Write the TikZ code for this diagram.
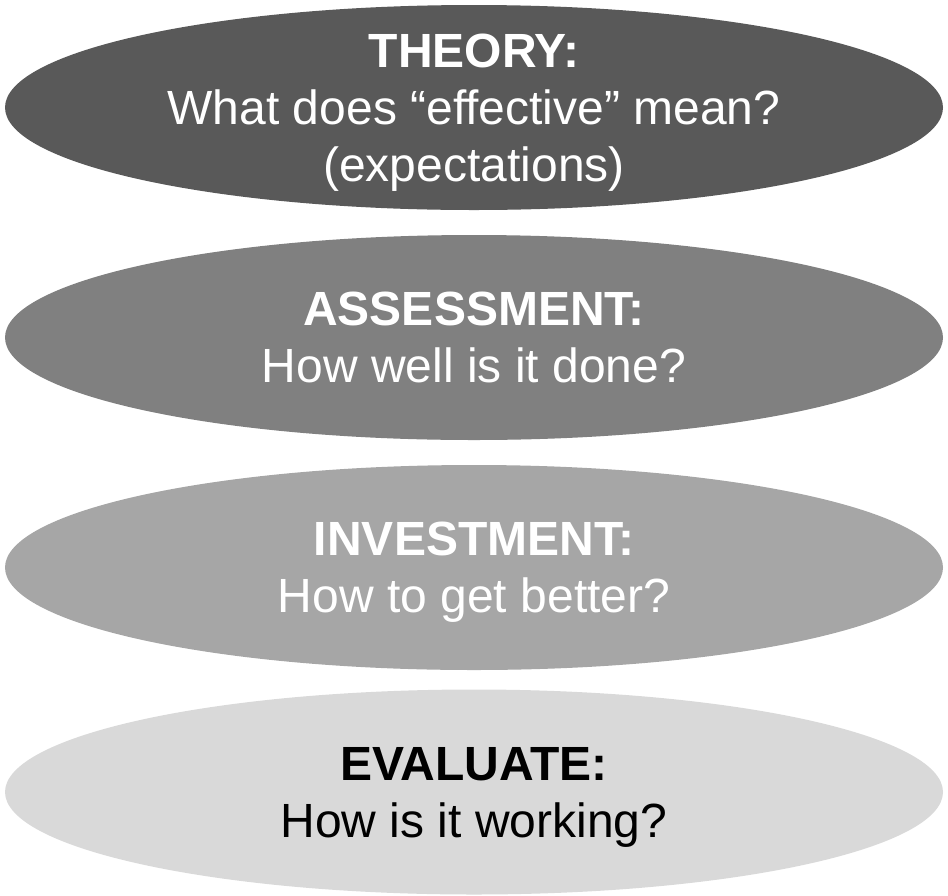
\documentclass[tikz,border=0pt]{standalone}
\usepackage{fontspec}
\setmainfont{Liberation Sans}
\usepackage{tikz}
\usepackage{xcolor}
\usetikzlibrary{shapes.geometric}

\definecolor{greyA}{HTML}{595959}
\definecolor{greyB}{HTML}{808080}
\definecolor{greyC}{HTML}{A6A6A6}
\definecolor{greyD}{HTML}{D9D9D9}

\begin{document}
\begin{tikzpicture}[x=0.5pt,y=0.5pt]
\tikzstyle{every node}+=[inner sep=0pt]
\tikzstyle{stage}=[ellipse, minimum width=469pt, minimum height=102.5pt]
\tikzstyle{stagetext}=[align=center, text depth=0pt,
  font=\fontsize{24}{28.5}\selectfont]
\useasboundingbox (0,0) rectangle (948,-895);
% the four ellipses, darkest on top
\node [stage, fill=greyA] (theory) at (474,-107.5) {};
\node [stage, fill=greyB] (assess) at (474,-337.5) {};
\node [stage, fill=greyC] (invest) at (474,-567.5) {};
\node [stage, fill=greyD] (evaluate) at (474,-792) {};
% their texts
\node [stagetext, text=white] (theorytext) at (theory.center)
  {\textbf{THEORY:}\\What does “effective” mean?\\(expectations)};
\node [stagetext, text=white] (assesstext) at (assess.center)
  {\textbf{ASSESSMENT:}\\How well is it done?};
\node [stagetext, text=white] (investtext) at (invest.center)
  {\textbf{INVESTMENT:}\\How to get better?};
\node [stagetext, text=black] (evaluatetext) at (evaluate.center)
  {\textbf{EVALUATE:}\\How is it working?};
\end{tikzpicture}
\end{document}
